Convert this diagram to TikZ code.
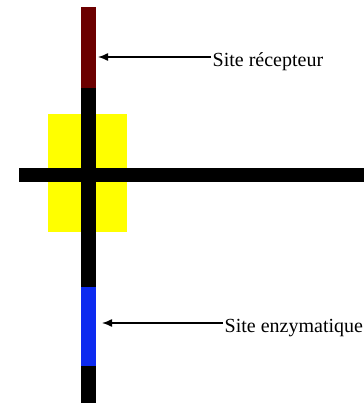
\documentclass[tikz,border=0pt]{standalone}
\usepackage{fontspec}
\setmainfont{Liberation Serif}
\usetikzlibrary{arrows.meta,positioning}
\definecolor{recepteurred}{RGB}{108,0,0}
\definecolor{enzymeblue}{RGB}{12,42,240}
\definecolor{lipidyellow}{RGB}{255,255,0}

\begin{document}
\begin{tikzpicture}[x=1pt,y=-1pt,
  sitetext/.style={anchor=base west,inner sep=1.5pt,font=\fontsize{20}{22}\selectfont},
  arrow/.style={-{Latex[length=10pt,width=8pt]},line width=1.4pt}
]
  \useasboundingbox (0,0) rectangle (364,405);
  % membrane and receptor
  \fill[lipidyellow] (48,114) rectangle (127,232);
  \fill[black] (81,7) rectangle (96,403);
  \fill[recepteurred] (81,7) rectangle (96,88);
  \fill[enzymeblue] (81,287) rectangle (96,366);
  \fill[black] (19,168) rectangle (364,182);

  \coordinate (tipR) at (98,57);
  \coordinate (tipE) at (102,323);
  \node[sitetext] (recepteur) at (211,66) {Site récepteur};
  \node[sitetext] (enzyme) at (223,332) {Site enzymatique};
  \draw[arrow] (recepteur.west |- tipR) -- (tipR);
  \draw[arrow] (enzyme.west |- tipE) -- (tipE);
\end{tikzpicture}
\end{document}
